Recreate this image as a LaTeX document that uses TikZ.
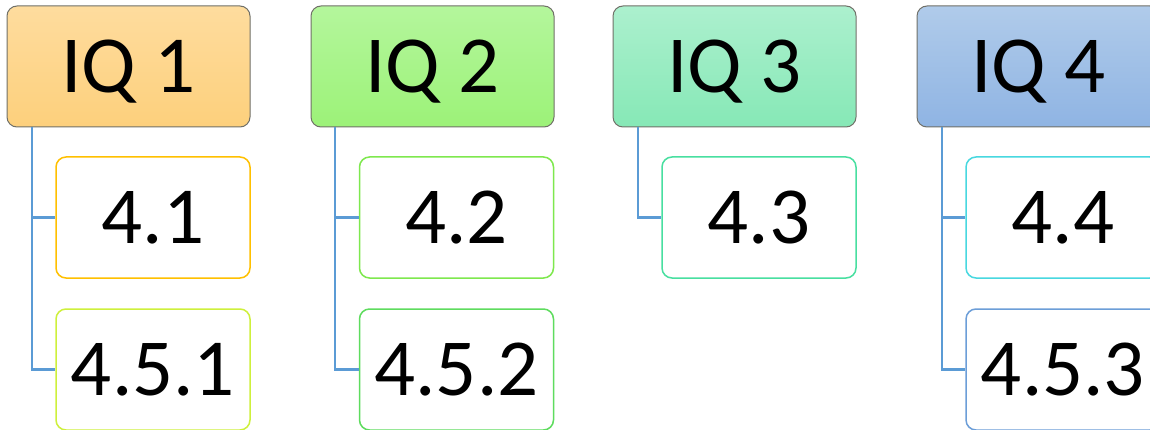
\documentclass[tikz,border=0pt]{standalone}
\usepackage{fontspec}
\setmainfont{Carlito}

\definecolor{iqonetop}{RGB}{254,220,158}
\definecolor{iqonebot}{RGB}{253,208,124}
\definecolor{iqtwotop}{RGB}{180,246,156}
\definecolor{iqtwobot}{RGB}{156,242,120}
\definecolor{iqthreetop}{RGB}{172,240,206}
\definecolor{iqthreebot}{RGB}{134,232,182}
\definecolor{iqfourtop}{RGB}{176,203,234}
\definecolor{iqfourbot}{RGB}{143,180,227}
\definecolor{headline}{RGB}{112,112,104}
\definecolor{linkblue}{RGB}{91,155,213}

\begin{document}
\begin{tikzpicture}[x=1pt,y=-1pt,
  iqbox/.style={rounded corners=10pt, draw=headline, line width=1pt,
    minimum width=243pt, minimum height=121pt, inner sep=0pt,
    text depth=0pt, font=\fontsize{81}{90}\selectfont},
  secbox/.style={rounded corners=10pt, fill=white, line width=1.5pt,
    minimum width=194pt, minimum height=121pt, inner sep=0pt,
    font=\fontsize{81}{90}\selectfont},
  link/.style={draw=linkblue, line width=2.2pt}]
\clip (0,0) rectangle (1150,430);
\fill[white] (0,0) rectangle (1150,430);
% headers
\node[iqbox, top color=iqonetop, bottom color=iqonebot] (iq1) at (128.5,66.5){IQ 1};
\node[iqbox, top color=iqtwotop, bottom color=iqtwobot] (iq2) at (432.5,66.5){IQ 2};
\node[iqbox, top color=iqthreetop, bottom color=iqthreebot] (iq3) at (734.5,66.5){IQ 3};
\node[iqbox, top color=iqfourtop, bottom color=iqfourbot] (iq4) at (1038.5,66.5){IQ 4};
% sections
\node[secbox, draw={rgb,255:red,255;green,192;blue,0}] (s41) at (153,217.5){4.1};
\node[secbox, draw={rgb,255:red,206;green,240;blue,60}] (s451) at (153,369.5){4.5.1};
\node[secbox, draw={rgb,255:red,126;green,232;blue,78}] (s42) at (456.5,217.5){4.2};
\node[secbox, draw={rgb,255:red,94;green,220;blue,94}] (s452) at (456.5,369.5){4.5.2};
\node[secbox, draw={rgb,255:red,72;green,223;blue,160}] (s43) at (759,217.5){4.3};
\node[secbox, draw={rgb,255:red,72;green,216;blue,224}] (s44) at (1063,217.5){4.4};
\node[secbox, draw={rgb,255:red,108;green,158;blue,216}] (s453) at (1063,369.5){4.5.3};
% links
\coordinate (b1) at (32,127);
\coordinate (b2) at (335,127);
\coordinate (b3) at (638,127);
\coordinate (b4) at (942,127);
\draw[link](b1) |- (s41.west);
\draw[link](b1) |- (s451.west);
\draw[link](b2) |- (s42.west);
\draw[link](b2) |- (s452.west);
\draw[link](b3) |- (s43.west);
\draw[link](b4) |- (s44.west);
\draw[link](b4) |- (s453.west);
\end{tikzpicture}
\end{document}
